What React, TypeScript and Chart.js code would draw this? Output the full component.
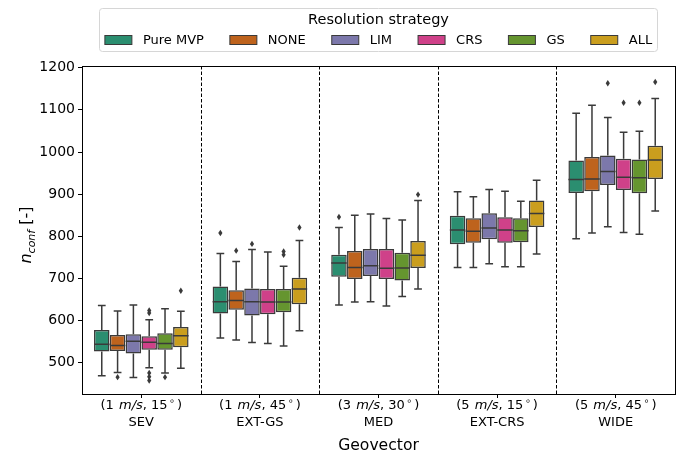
import { useEffect, useRef } from 'react';
import { Chart, registerables } from 'chart.js';

Chart.register(...registerables);

const categories = ['SEV', 'EXT-GS', 'MED', 'EXT-CRS', 'WIDE'];
const windSpeeds = [1, 1, 3, 5, 5];
const windAngles = [15, 45, 30, 15, 45];
const strategies = ['Pure MVP', 'NONE', 'LIM', 'CRS', 'GS', 'ALL'];
const colors = ['#2b8e70', '#be631d', '#7c78ab', '#cf4189', '#65952f', '#ca9e1e'];
const yTicks = [500, 600, 700, 800, 900, 1000, 1100, 1200];

// rows: strategies, columns: categories
const whiskerLow = [
  [469, 559, 637, 726, 794],
  [477, 554, 644, 726, 808],
  [465, 548, 645, 735, 823],
  [488, 546, 635, 728, 809],
  [476, 540, 657, 728, 805],
  [487, 576, 675, 758, 860],
];
const q1 = [
  [527, 617, 704, 781, 903],
  [528, 626, 699, 785, 907],
  [522, 612, 706, 793, 922],
  [531, 615, 699, 785, 910],
  [531, 620, 695, 786, 902],
  [537, 639, 725, 822, 936],
];
const median = [
  [544, 645, 737, 815, 935],
  [541, 648, 726, 812, 936],
  [551, 645, 730, 820, 954],
  [549, 644, 724, 815, 940],
  [546, 644, 725, 813, 939],
  [564, 675, 755, 854, 981],
];
const q3 = [
  [578, 681, 756, 849, 980],
  [566, 672, 765, 843, 988],
  [568, 676, 770, 855, 992],
  [563, 675, 770, 845, 984],
  [570, 675, 761, 843, 982],
  [585, 702, 789, 885, 1015],
];
const whiskerHigh = [
  [636, 759, 821, 906, 1092],
  [623, 740, 850, 894, 1111],
  [637, 769, 853, 911, 1082],
  [602, 763, 842, 907, 1047],
  [628, 729, 839, 883, 1049],
  [622, 790, 885, 933, 1127],
];
const outliers = [
  [[], [808], [846], [], []],
  [[466], [766], [], [], []],
  [[], [782], [], [], [1163]],
  [[624, 618, 476, 467, 458], [], [], [], [1117]],
  [[466], [764, 756], [], [], [1117]],
  [[671], [821], [899], [], [1166]],
];

const GRAY = '#3a3a3a';
const FONT = '"DejaVu Sans", sans-serif';

const boxPlugin = {
  id: 'boxExtras',
  beforeDatasetsDraw(chart: any) {
    const { ctx, chartArea, scales } = chart;
    const xs = scales.x;
    ctx.save();
    ctx.strokeStyle = '#000';
    ctx.lineWidth = 1;
    ctx.setLineDash([3.5, 2]);
    for (let i = 0; i < categories.length - 1; i++) {
      const px = Math.round((xs.getPixelForValue(i) + xs.getPixelForValue(i + 1)) / 2) + 0.5;
      ctx.beginPath();
      ctx.moveTo(px, chartArea.top);
      ctx.lineTo(px, chartArea.bottom);
      ctx.stroke();
    }
    ctx.restore();
  },
  afterDatasetsDraw(chart: any) {
    const { ctx, scales } = chart;
    const ys = scales.y;
    ctx.save();
    ctx.strokeStyle = GRAY;
    ctx.fillStyle = GRAY;
    ctx.lineWidth = 1.5;
    strategies.forEach((_, i) => {
      const meta = chart.getDatasetMeta(i);
      meta.data.forEach((bar: any, j: number) => {
        const { x, width } = bar.getProps(['x', 'width'], true);
        const yq1 = ys.getPixelForValue(q1[i][j]);
        const yq3 = ys.getPixelForValue(q3[i][j]);
        const ylo = ys.getPixelForValue(whiskerLow[i][j]);
        const yhi = ys.getPixelForValue(whiskerHigh[i][j]);
        const ymed = ys.getPixelForValue(median[i][j]);
        const cap = width / 4;
        ctx.beginPath();
        ctx.moveTo(x, yq3);
        ctx.lineTo(x, yhi);
        ctx.moveTo(x - cap, yhi);
        ctx.lineTo(x + cap, yhi);
        ctx.moveTo(x, yq1);
        ctx.lineTo(x, ylo);
        ctx.moveTo(x - cap, ylo);
        ctx.lineTo(x + cap, ylo);
        ctx.moveTo(x - width / 2, ymed);
        ctx.lineTo(x + width / 2, ymed);
        ctx.stroke();
        outliers[i][j].forEach((v) => {
          const py = ys.getPixelForValue(v);
          ctx.beginPath();
          ctx.moveTo(x, py - 3.2);
          ctx.lineTo(x + 2.1, py);
          ctx.lineTo(x, py + 3.2);
          ctx.lineTo(x - 2.1, py);
          ctx.closePath();
          ctx.fill();
        });
      });
    });
    ctx.restore();
  },
  afterDraw(chart: any) {
    const { ctx, chartArea, scales } = chart;
    const xs = scales.x;
    ctx.save();
    // frame
    ctx.strokeStyle = '#000';
    ctx.lineWidth = 1;
    ctx.strokeRect(
      Math.round(chartArea.left) + 0.5,
      Math.round(chartArea.top) + 0.5,
      Math.round(chartArea.right - chartArea.left),
      Math.round(chartArea.bottom - chartArea.top)
    );

    // x tick labels
    ctx.fillStyle = '#000';
    ctx.textBaseline = 'middle';
    ctx.textAlign = 'left';
    categories.forEach((cat, j) => {
      const cx = xs.getPixelForValue(j);
      const segs = [
        { t: `(${windSpeeds[j]} `, f: `13px ${FONT}`, dy: 0, pad: 1 },
        { t: 'm/s', f: `italic 13px ${FONT}`, dy: 0, pad: 0 },
        { t: `, ${windAngles[j]}`, f: `13px ${FONT}`, dy: 0, pad: 1 },
        { t: '∘', f: `9.5px ${FONT}`, dy: -4, pad: 2.5 },
        { t: ')', f: `13px ${FONT}`, dy: 0, pad: 0 },
      ];
      let total = 0;
      segs.forEach((s) => {
        ctx.font = s.f;
        total += ctx.measureText(s.t).width + s.pad;
      });
      let sx = cx - total / 2;
      segs.forEach((s, k) => {
        ctx.font = s.f;
        if (k === 3) sx += 0.5;
        ctx.fillText(s.t, sx, 406 + s.dy);
        sx += ctx.measureText(s.t).width + s.pad - (k === 3 ? 0.5 : 0);
      });
      ctx.font = `13px ${FONT}`;
      ctx.textAlign = 'center';
      ctx.fillText(cat, cx, 422.5);
      ctx.textAlign = 'left';
    });

    // x axis title
    ctx.font = `15.6px ${FONT}`;
    ctx.textAlign = 'center';
    ctx.fillText('Geovector', (chartArea.left + chartArea.right) / 2, 445.5);

    // y axis title
    ctx.save();
    ctx.translate(31, (chartArea.top + chartArea.bottom) / 2 + 5);
    ctx.rotate(-Math.PI / 2);
    ctx.textBaseline = 'alphabetic';
    ctx.textAlign = 'left';
    const ySegs = [
      { t: 'n', f: `italic 16px ${FONT}`, dy: 0 },
      { t: 'conf', f: `italic 11px ${FONT}`, dy: 3.5 },
      { t: ' [-]', f: `16px ${FONT}`, dy: 0 },
    ];
    let yTot = 0;
    ySegs.forEach((s) => {
      ctx.font = s.f;
      yTot += ctx.measureText(s.t).width;
    });
    let lx = -yTot / 2;
    ySegs.forEach((s) => {
      ctx.font = s.f;
      ctx.fillText(s.t, lx, s.dy);
      lx += ctx.measureText(s.t).width;
    });
    ctx.restore();

    // legend
    ctx.font = `13px ${FONT}`;
    const patchW = 27;
    const patchGap = 11;
    const itemGap = 26;
    const widths = strategies.map((s) => ctx.measureText(s).width);
    const rowW = widths.reduce((a, w) => a + patchW + patchGap + w, 0) + itemGap * (strategies.length - 1);
    const centerX = (chartArea.left + chartArea.right) / 2;
    const startX = centerX - rowW / 2;
    const fx = Math.round(startX - 6) + 0.5;
    const fw = Math.round(rowW + 11);
    const fy = 8.5;
    const fh = 43;
    ctx.beginPath();
    ctx.roundRect(fx, fy, fw, fh, 3);
    ctx.fillStyle = '#fff';
    ctx.fill();
    ctx.strokeStyle = '#d6d6d6';
    ctx.lineWidth = 1;
    ctx.stroke();

    ctx.fillStyle = '#000';
    ctx.font = `14.5px ${FONT}`;
    ctx.textAlign = 'center';
    ctx.textBaseline = 'middle';
    ctx.fillText('Resolution strategy', centerX, 20.5);

    ctx.font = `13px ${FONT}`;
    ctx.textAlign = 'left';
    let px = startX;
    strategies.forEach((s, i) => {
      ctx.fillStyle = colors[i];
      ctx.fillRect(px, 35.5, patchW, 9);
      ctx.strokeStyle = GRAY;
      ctx.lineWidth = 1;
      ctx.strokeRect(px, 35.5, patchW, 9);
      ctx.fillStyle = '#000';
      ctx.fillText(s, px + patchW + patchGap, 40.5);
      px += patchW + patchGap + widths[i] + itemGap;
    });
    ctx.restore();
  },
};

export default function App() {
  const ref = useRef<HTMLCanvasElement | null>(null);
  useEffect(() => {
    if (!ref.current) return;
    const chart = new Chart(ref.current, {
      type: 'bar',
      data: {
        labels: categories,
        datasets: strategies.map((s, i) => ({
          label: s,
          data: categories.map((_, j) => [q1[i][j], q3[i][j]]) as any,
          backgroundColor: colors[i],
          borderColor: GRAY,
          borderWidth: 1.5,
          borderSkipped: false,
          categoryPercentage: 0.8,
          barPercentage: 0.98,
        })),
      },
      options: {
        animation: false,
        responsive: false,
        layout: { padding: { top: 66, right: 12, left: 0, bottom: 0 } },
        plugins: { legend: { display: false }, tooltip: { enabled: false } },
        scales: {
          x: {
            grid: { drawOnChartArea: false, offset: false, drawTicks: true, tickLength: 4, color: '#000', tickColor: '#000' },
            border: { display: false },
            ticks: { display: false },
            afterFit: (scale: any) => {
              scale.height = 60;
            },
          },
          y: {
            min: 426,
            max: 1204,
            grid: { drawOnChartArea: false, drawTicks: true, tickLength: 4, color: '#000', tickColor: '#000' },
            border: { display: false },
            ticks: {
              color: '#000',
              font: { family: FONT, size: 14 },
              padding: 3,
              callback: (v: any) => String(v),
            },
            afterBuildTicks: (scale: any) => {
              scale.ticks = yTicks.map((v) => ({ value: v }));
            },
            afterFit: (scale: any) => {
              scale.width = 82;
            },
          },
        },
      },
      plugins: [boxPlugin],
    });
    return () => chart.destroy();
  }, []);
  return (
    <div style={{ position: 'absolute', left: 0, top: 0, width: 687, height: 454 }}>
      <canvas ref={ref} width={687} height={454} style={{ width: 687, height: 454 }} />
    </div>
  );
}
